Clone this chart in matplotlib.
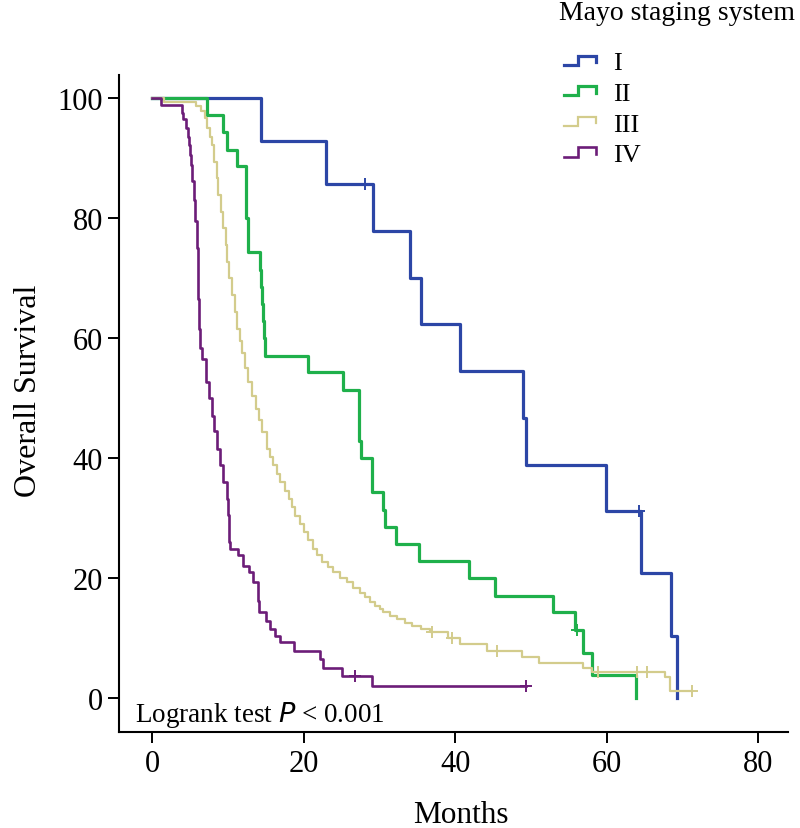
from matplotlib import pyplot as plt
from matplotlib.legend_handler import HandlerBase
from matplotlib.lines import Line2D

# Kaplan-Meier curves: event times (months) and survival (%) after each event
t_I = [0, 14.4, 23.0, 29.1, 34.0, 35.5, 40.6, 48.9, 49.3, 59.9, 64.5, 68.5, 69.3]
s_I = [100, 92.9, 85.7, 77.9, 70.1, 62.3, 54.5, 46.7, 38.9, 31.2, 20.8, 10.4, 0]
cens_t_I = [28.1, 64.2]
cens_s_I = [85.7, 31.2]

t_II = [0, 7.3, 9.3, 9.9, 11.2, 12.4, 12.6, 14.2, 14.3, 14.5, 14.6, 14.8, 14.9, 20.5, 25.2,
        27.3, 27.5, 29.0, 30.5, 30.7, 32.2, 35.2, 41.8, 45.2, 52.9, 55.8, 56.8, 58.1, 63.8]
s_II = [100, 97.1, 94.3, 91.4, 88.6, 80.0, 74.3, 71.4, 68.6, 65.7, 62.9, 60.0, 57.1, 54.3, 51.4,
        42.9, 40.0, 34.3, 31.4, 28.6, 25.7, 22.9, 20.0, 17.1, 14.3, 11.4, 7.6, 3.8, 0]
cens_t_II = [56.0]
cens_s_II = [11.4]

t_III = [0, 1.5, 5.8, 6.5, 7.0, 7.3, 7.65, 7.95, 8.2, 8.5, 8.75, 9.06, 9.3, 9.7, 9.9, 10.1,
         10.5, 10.9, 11.2, 11.6, 11.9, 12.3, 12.6, 13.2, 13.7, 14.1, 14.5, 15.1, 15.6, 16.0,
         16.5, 16.9, 17.5, 18.0, 18.5, 18.9, 19.5, 20.0, 20.6, 21.2, 21.8, 22.4, 23.2, 23.9,
         24.8, 25.7, 26.5, 27.4, 28.1, 28.8, 29.4, 30.1, 30.5, 31.4, 32.3, 33.3, 34.3, 35.5,
         36.7, 39.1, 40.6, 44.2, 48.8, 51.0, 56.9, 58.0, 67.7, 68.3, 71.2]
s_III = [100, 99.3, 98.6, 97.8, 96.7, 95.0, 93.5, 92.2, 89.4, 86.6, 83.9, 81.1, 78.3, 75.5, 72.7, 70.0,
         67.2, 64.4, 61.6, 59.5, 57.5, 55.0, 52.7, 50.4, 48.2, 46.3, 44.3, 41.6, 40.2, 38.8,
         37.4, 36.0, 34.6, 33.2, 31.8, 30.4, 29.0, 27.7, 26.3, 24.9, 23.8, 22.7, 21.8, 21.0,
         20.1, 19.3, 18.4, 17.6, 16.8, 16.0, 15.4, 14.9, 14.3, 13.7, 13.2, 12.6, 12.1, 11.6,
         11.1, 10.0, 9.0, 7.9, 6.8, 5.9, 5.1, 4.3, 3.6, 1.2, 1.2]
cens_t_III = [36.9, 39.6, 45.5, 58.8, 64.0, 65.3, 71.2]
cens_s_III = [11.1, 10.0, 7.9, 4.3, 4.3, 4.3, 1.2]

t_IV = [0, 1.1, 3.9, 4.1, 4.5, 4.7, 4.9, 5.0, 5.1, 5.3, 5.5, 5.7, 5.85, 6.0, 6.1, 6.2, 6.3,
        6.6, 7.1, 7.5, 7.9, 8.2, 8.6, 9.0, 9.4, 9.9, 10.0, 10.1, 10.2, 10.3, 11.3, 12.0, 12.8,
        13.3, 13.9, 14.0, 14.1, 15.0, 15.6, 16.2, 16.9, 18.7, 22.2, 22.6, 25.0, 29.0, 49.3]
s_IV = [100, 98.8, 97.5, 96.5, 95.0, 93.5, 92.2, 90.5, 88.9, 86.1, 83.0, 79.5, 75.0, 70.0, 66.6, 61.6, 58.3,
        56.5, 52.7, 50.0, 47.1, 44.5, 41.6, 38.8, 36.0, 33.2, 30.5, 28.8, 26.0, 24.9, 23.8, 22.1, 21.0,
        19.3, 18.2, 16.2, 14.3, 12.9, 11.5, 10.4, 9.3, 7.9, 6.5, 5.1, 3.7, 2.0, 2.0]
cens_t_IV = [26.8, 49.3]
cens_s_IV = [3.7, 2.0]

labels = ['I', 'II', 'III', 'IV']
colors = ['#2c46a6', '#1fb04b', '#d3cc8c', '#6c1d78']
widths = [2.3, 2.3, 1.6, 1.9]

plt.rcParams['font.family'] = 'Liberation Serif'


class StepHandler(HandlerBase):
    # little step icon like the one SPSS draws in the legend
    def create_artists(self, legend, orig_handle, xdescent, ydescent, width, height, fontsize, trans):
        xs = [0, 0.45, 0.45, 1.0, 1.0]
        ys = [0.25, 0.25, 0.75, 0.75, 0.4]
        line = Line2D([x * width - xdescent for x in xs], [y * height - ydescent for y in ys],
                      color=orig_handle.get_color(), lw=orig_handle.get_linewidth(),
                      solid_joinstyle='miter', transform=trans)
        return [line]


fig = plt.figure(figsize=(8, 8.29), dpi=100)
ax = fig.add_axes([0.149, 0.116, 0.836, 0.792])

series = [(t_I, s_I, cens_t_I, cens_s_I), (t_II, s_II, cens_t_II, cens_s_II),
          (t_III, s_III, cens_t_III, cens_s_III), (t_IV, s_IV, cens_t_IV, cens_s_IV)]
handles = []
for (t, s, ct, cs), lab, col, lw in zip(series, labels, colors, widths):
    h, = ax.step(t, s, where='post', color=col, lw=lw, label=lab)
    ax.plot(ct, cs, ls='none', marker='+', ms=9, mew=1.4, color=col)
    handles.append(h)

ax.set_xlim(-4.35, 83.9)
ax.set_ylim(-5.6, 103.8)
ax.set_xticks([0, 20, 40, 60, 80])
ax.set_yticks([0, 20, 40, 60, 80, 100])
ax.tick_params(direction='out', length=8, width=1.4, labelsize=22)
ax.tick_params(axis='x', pad=4.5)
ax.tick_params(axis='y', pad=3.5)
for side in ['top', 'right']:
    ax.spines[side].set_visible(False)
for side in ['left', 'bottom']:
    ax.spines[side].set_linewidth(1.5)

ax.text(0.024, 0.017, 'Logrank test $\\mathit{P}$ < 0.001', transform=ax.transAxes,
        fontsize=19.5, ha='left', va='baseline')

fig.text(28 / 800, 1 - 391 / 829, 'Overall Survival', rotation=90, fontsize=23,
         ha='center', va='center')
fig.text(461 / 800, 6 / 829, 'Months', fontsize=22.5, ha='center', va='baseline')

fig.text(559 / 800, 1 - 14 / 829, 'Mayo staging system', fontsize=20, ha='left', va='center')
fig.legend(handles=handles, labels=labels, handler_map={Line2D: StepHandler()},
           loc='upper left', bbox_to_anchor=(564 / 800, 1 - 52 / 829), frameon=False,
           fontsize=19, handlelength=1.2, handletextpad=0.65, labelspacing=0.27,
           borderpad=0, borderaxespad=0)

plt.savefig('out.png', dpi=100)
